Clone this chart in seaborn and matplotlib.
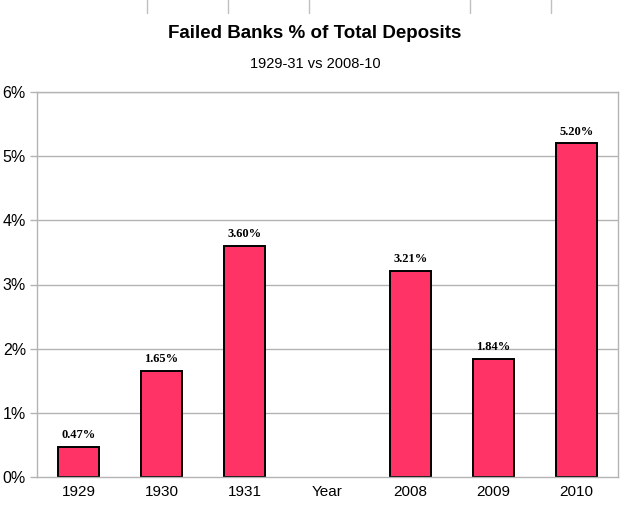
import numpy as np
import pandas as pd
import seaborn as sns
import matplotlib.pyplot as plt
from matplotlib.lines import Line2D


years = ['1929', '1930', '1931', 'Year', '2008', '2009', '2010']
failed_pct = [0.47, 1.65, 3.60, np.nan, 3.21, 1.84, 5.20]
value_labels = ['0.47%', '1.65%', '3.60%', '', '3.21%', '1.84%', '5.20%']
y_ticks = [0, 1, 2, 3, 4, 5, 6]

BAR_COLOR = '#FF3366'
GRID_COLOR = '#B3B3B3'

df = pd.DataFrame({'Year': years, 'Pct': failed_pct})

sns.set_style('white')
plt.rcParams['font.family'] = ['Liberation Sans', 'DejaVu Sans']
plt.rcParams['text.color'] = 'black'
plt.rcParams['xtick.labelcolor'] = 'black'
plt.rcParams['ytick.labelcolor'] = 'black'

fig = plt.figure(figsize=(6.3, 5.12), dpi=100)
ax = fig.add_axes([37 / 630, 35 / 512, 581 / 630, 385 / 512])

sns.barplot(data=df, x='Year', y='Pct', order=years, color=BAR_COLOR,
            saturation=1, width=0.5, edgecolor='black', linewidth=1.4, ax=ax)

ax.set_ylim(0, 6)
ax.set_xlim(-0.5, len(years) - 0.5)
ax.set_yticks(y_ticks)
ax.set_yticklabels([f'{t}%' for t in y_ticks], fontsize=11.5)
ax.set_xticklabels(years, fontsize=11)
ax.set_xlabel('')
ax.set_ylabel('')

# gridlines
for t in y_ticks[1:]:
    ax.axhline(t, color=GRID_COLOR, lw=1, zorder=0)

for side in ['left', 'right', 'top', 'bottom']:
    ax.spines[side].set_color(GRID_COLOR)
    ax.spines[side].set_linewidth(1)

# ticks between categories on x axis
ax.tick_params(axis='x', length=0, pad=6)
ax.set_xticks(np.arange(-0.5, len(years)), minor=True)
ax.tick_params(axis='x', which='minor', length=5, color=GRID_COLOR, width=1)
ax.tick_params(axis='y', length=5, color=GRID_COLOR, width=1, left=True, pad=3)

for i, (v, lab) in enumerate(zip(failed_pct, value_labels)):
    if lab:
        ax.text(i, v + 0.09, lab, ha='center', va='bottom', fontsize=9,
                fontweight='bold', color='black',
                family=['Liberation Serif', 'DejaVu Serif'])

fig.text(0.5, 1 - 33 / 512, 'Failed Banks % of Total Deposits', ha='center',
         va='center', fontsize=13.5, fontweight='bold', color='black')
fig.text(0.5, 1 - 64 / 512, '1929-31 vs 2008-10', ha='center', va='center',
         fontsize=10.5, color='black')

# spreadsheet cell borders peeking in at the top
for px in [147, 228, 309, 470, 551]:
    fig.add_artist(Line2D([px / 630, px / 630], [1, 1 - 13 / 512],
                          color='#C0C0C0', lw=1))

fig.savefig('out.png', dpi=100)
